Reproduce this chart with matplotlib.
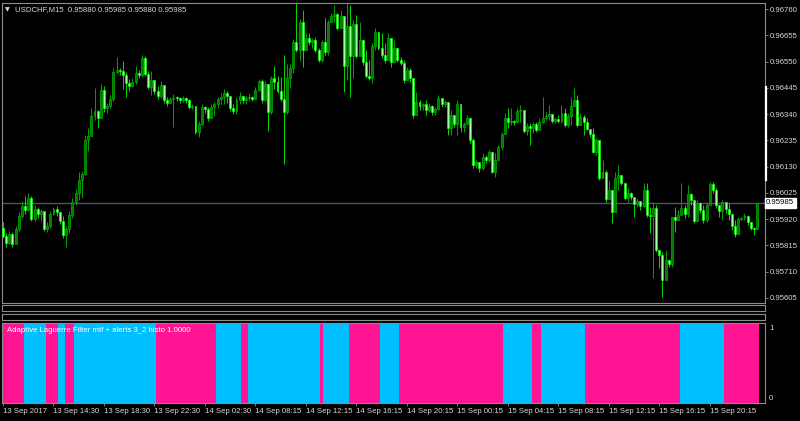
import numpy as np
import matplotlib
matplotlib.use('Agg')
import matplotlib.pyplot as plt
from matplotlib.transforms import blended_transform_factory
from matplotlib.lines import Line2D

# USDCHF M15 - precos em pontos (preco * 100000)
open_first = 95884
close_pts = [
    95852, 95824, 95860, 95820, 95880, 95932, 95972, 95956, 96004, 95920,
    95960, 95940, 95952, 95880, 95892, 95940, 95960, 95948, 95912, 95856,
    95880, 95936, 95988, 96024, 96076, 96100, 96236, 96252, 96332, 96352,
    96324, 96436, 96364, 96372, 96400, 96508, 96516, 96512, 96496, 96464,
    96452, 96468, 96504, 96496, 96564, 96500, 96448,
    96476, 96432, 96412, 96456, 96396, 96384, 96400, 96404, 96404, 96396,
    96404, 96396, 96368, 96372, 96268, 96300, 96368, 96360, 96324, 96368,
    96380, 96400, 96408, 96424, 96412, 96364, 96352, 96396, 96412, 96396,
    96404, 96408, 96400, 96436, 96472, 96396, 96460, 96348, 96484, 96468,
    96432, 96400, 96348, 96484, 96524, 96628, 96596, 96708,
    96596, 96644, 96628, 96636, 96596, 96556, 96628, 96588, 96708, 96732,
    96740, 96684, 96732, 96532, 96692, 96572, 96700, 96572, 96636, 96548,
    96492, 96484, 96612, 96668, 96604, 96576, 96556, 96644, 96548, 96604,
    96556, 96544, 96476, 96516, 96484, 96336, 96388, 96372, 96380, 96356,
    96372, 96348, 96360, 96404, 96380, 96388, 96284, 96336, 96300,
    96380, 96288, 96300, 96324, 96236, 96136, 96148, 96124, 96168, 96156,
    96188, 96108, 96156, 96208, 96260, 96324, 96308, 96312, 96308, 96352,
    96356, 96272, 96292, 96284, 96300, 96276, 96308, 96324, 96332, 96340,
    96312, 96320, 96312, 96344, 96296, 96332, 96372, 96396, 96296, 96328,
    96308, 96280, 96260, 96188, 96236, 96084, 96108, 96000,
    96036, 95948, 96084, 96096, 96064, 96004, 96024, 96008, 95980, 95992,
    95972, 96036, 95936, 95932, 95964, 95796, 95776, 95676, 95756, 95740,
    95928, 95916, 95936, 95964, 95940, 96020, 95996, 95912, 95984, 95956,
    95916, 95976, 96060, 96036, 95976, 95952, 95988, 95960, 95940, 95892,
    95860, 95920, 95924, 95932, 95908, 95884, 95880, 95985,
]
high_pts = [
    95908, 95864, 95872, 95868, 95892, 95948, 95992, 96012, 96024, 96012,
    95976, 95968, 95960, 95948, 95908, 95952, 95968, 95972, 95948, 95932,
    95892, 95952, 96004, 96040, 96108, 96112, 96256, 96284, 96364, 96444,
    96356, 96460, 96452, 96384, 96416, 96524, 96568, 96524, 96552, 96508,
    96480, 96484, 96532, 96516, 96576, 96572, 96512,
    96512, 96460, 96452, 96472, 96420, 96408, 96408, 96420, 96412, 96408,
    96412, 96408, 96400, 96380, 96372, 96312, 96380, 96372, 96368, 96380,
    96388, 96408, 96424, 96440, 96432, 96392, 96380, 96408, 96428, 96408,
    96412, 96424, 96412, 96448, 96480, 96480, 96472, 96428, 96492, 96532,
    96492, 96488, 96576, 96540, 96540, 96640, 96788, 96720,
    96756, 96664, 96664, 96644, 96648, 96604, 96636, 96724, 96716, 96744,
    96776, 96744, 96756, 96716, 96788, 96776, 96716, 96736, 96708, 96636,
    96596, 96556, 96624, 96684, 96668, 96664, 96624, 96664, 96624, 96636,
    96576, 96568, 96556, 96528, 96524, 96484, 96428, 96396, 96384, 96396,
    96384, 96376, 96368, 96416, 96396, 96396, 96376, 96356, 96336,
    96396, 96304, 96308, 96336, 96328, 96244, 96156, 96136, 96184, 96176,
    96196, 96184, 96184, 96216, 96268, 96344, 96364, 96364, 96316, 96364,
    96376, 96324, 96304, 96304, 96308, 96308, 96324, 96408, 96348, 96376,
    96328, 96328, 96336, 96376, 96364, 96344, 96408, 96444, 96416, 96344,
    96336, 96324, 96276, 96284, 96244, 96176, 96156, 96116,
    96076, 96024, 96108, 96136, 96096, 96064, 96044, 96028, 95996, 96004,
    95988, 96064, 96064, 95968, 95988, 95976, 95796, 95788, 95796, 95756,
    95928, 95968, 95956, 96064, 95976, 96056, 96024, 95976, 95996, 95988,
    95976, 95988, 96068, 96068, 96044, 95976, 95996, 95976, 95984, 95928,
    95916, 95928, 95928, 95944, 95936, 95904, 95888, 95985,
]
low_pts = [
    95844, 95808, 95820, 95808, 95860, 95872, 95924, 95940, 95964, 95912,
    95912, 95924, 95912, 95872, 95868, 95884, 95936, 95932, 95900, 95844,
    95808, 95864, 95924, 95976, 95996, 96004, 96096, 96192, 96260, 96316,
    96284, 96324, 96348, 96344, 96364, 96392, 96504, 96496, 96440, 96408,
    96432, 96448, 96460, 96484, 96488, 96492, 96440,
    96416, 96420, 96400, 96404, 96384, 96372, 96384, 96288, 96392, 96384,
    96388, 96384, 96360, 96360, 96260, 96248, 96296, 96344, 96312, 96324,
    96332, 96364, 96380, 96380, 96384, 96352, 96340, 96340, 96380, 96384,
    96380, 96392, 96392, 96400, 96432, 96384, 96392, 96272, 96340, 96440,
    96424, 96392, 96140, 96340, 96444, 96504, 96588, 96552,
    96528, 96596, 96616, 96604, 96588, 96548, 96548, 96576, 96576, 96708,
    96708, 96676, 96684, 96428, 96476, 96408, 96484, 96564, 96628, 96536,
    96484, 96476, 96464, 96596, 96596, 96564, 96544, 96564, 96528, 96564,
    96548, 96536, 96464, 96504, 96468, 96324, 96356, 96356, 96356, 96336,
    96348, 96336, 96336, 96356, 96368, 96368, 96256, 96256, 96288,
    96256, 96268, 96268, 96304, 96224, 96124, 96124, 96108, 96116, 96144,
    96148, 96104, 96088, 96164, 96196, 96268, 96284, 96296, 96296, 96308,
    96308, 96264, 96256, 96216, 96264, 96268, 96288, 96304, 96316, 96316,
    96304, 96304, 96304, 96304, 96288, 96288, 96296, 96376, 96288, 96316,
    96256, 96276, 96248, 96184, 96176, 96076, 96088, 95988,
    96008, 95904, 95964, 96036, 96056, 95996, 95988, 95996, 95928, 95968,
    95956, 95968, 95928, 95864, 95684, 95788, 95724, 95608, 95676, 95728,
    95728, 95868, 95916, 95948, 95924, 95928, 95976, 95904, 95916, 95944,
    95904, 95908, 95984, 96024, 95964, 95928, 95916, 95944, 95916, 95876,
    95848, 95896, 95916, 95916, 95896, 95876, 95856, 95880,
]

# Adaptive Laguerre Filter histo: 1 = subida (azul), -1 = descida (rosa)
trend_state = [-1, 1, -1, 1, -1, 1, -1, 1, -1, 1, -1, 1, -1, 1, -1, 1, -1, 1, -1, 1, -1]
trend_len = [7, 7, 4, 2, 3, 26, 19, 8, 2, 23, 1, 8, 10, 6, 33, 9, 3, 14, 30, 14, 11]

price_ticks = [0.96760, 0.96655, 0.96550, 0.96445, 0.96340, 0.96235,
               0.96130, 0.96025, 0.95920, 0.95815, 0.95710, 0.95605]
time_labels = ['13 Sep 2017', '13 Sep 14:30', '13 Sep 18:30', '13 Sep 22:30',
               '14 Sep 02:30', '14 Sep 08:15', '14 Sep 12:15', '14 Sep 16:15',
               '14 Sep 20:15', '15 Sep 00:15', '15 Sep 04:15', '15 Sep 08:15',
               '15 Sep 12:15', '15 Sep 16:15', '15 Sep 20:15']
time_step = 16
symbol = 'USDCHF,M15'
indicator_name = 'Adaptive Laguerre Filter mtf + alerts 3_2 histo 1.0000'

FONT = 'Liberation Sans'
FS = 5.6
TXT = '#d8d8d8'
GRID = '#8c8c8c'

W, H = 800, 421


def fig_rect(x0, y0, x1, y1):
    # converte pixels (origem no topo) para fracao da figura
    return [x0 / W, 1 - y1 / H, (x1 - x0) / W, (y1 - y0) / H]


def estilo_painel(ax):
    ax.set_facecolor('black')
    for s in ax.spines.values():
        s.set_color(GRID)
        s.set_linewidth(0.8)
    ax.set_xticks([])
    ax.set_yticks([])


close = np.array(close_pts) / 1e5
opn = np.concatenate([[open_first], close_pts[:-1]]) / 1e5
high = np.maximum.reduce([np.array(high_pts) / 1e5, opn, close])
low = np.minimum.reduce([np.array(low_pts) / 1e5, opn, close])
idx = np.arange(len(close))
up = close > opn
xlim = (-0.32, 241.5)

fig = plt.figure(figsize=(W / 100, H / 100), dpi=100)
fig.patch.set_facecolor('black')

# painel principal
ax = fig.add_axes(fig_rect(2, 3, 765, 303))
estilo_painel(ax)
ax.set_xlim(*xlim)
ax.set_ylim(0.95584, 0.96784)

ax.axhline(close[-1], color='#4c5560', lw=1.0, zorder=1)
wick_col = np.where(up, '#00a400', '#00dc00').tolist()
ax.vlines(idx, low, high, colors=wick_col, lw=0.7, zorder=2)
body = np.maximum(np.abs(close - opn), 0.000025)
ax.bar(idx, body, 0.62, bottom=np.minimum(opn, close),
       color=np.where(up, '#007800', '#a2ffa2').tolist(),
       edgecolor=np.where(up, '#00b000', '#00ff00').tolist(),
       linewidth=0.5, zorder=3)

ax.yaxis.tick_right()
ax.set_yticks(price_ticks)
ax.set_yticklabels([f'{p:.5f}' for p in price_ticks], fontsize=FS, family=FONT, color=TXT)
ax.tick_params(axis='y', length=2.2, width=0.6, color=GRID, pad=1.5)

tr = blended_transform_factory(ax.transAxes, ax.transData)
ax.text(1.0016, close[-1], f'{close[-1]:.5f}', transform=tr, ha='left', va='center',
        fontsize=FS, family=FONT, color='black',
        bbox=dict(boxstyle='square,pad=0.18', fc='white', ec='white'))

titulo = f'{symbol}  {opn[-1]:.5f} {high[-1]:.5f} {low[-1]:.5f} {close[-1]:.5f}'
fig.text(5 / W, 1 - 10 / H, '\u25bc', fontsize=4.5, color=TXT, va='center', ha='left')
fig.text(15 / W, 1 - 10 / H, titulo, fontsize=FS, family=FONT, color=TXT, va='center', ha='left')

fig.add_artist(Line2D([765.5 / W, 765.5 / W], [1 - 87 / H, 1 - 180 / H],
                      color='white', lw=1.6))

# paineis vazios
for y0, y1 in [(305, 311), (314, 320)]:
    axe = fig.add_axes(fig_rect(2, y0, 765, y1))
    estilo_painel(axe)

# painel do indicador
ax2 = fig.add_axes(fig_rect(2, 322.5, 765, 403))
estilo_painel(ax2)
ax2.set_xlim(*xlim)
ax2.set_ylim(0, 1)
trend = np.repeat(trend_state, trend_len)
cores = np.where(trend > 0, '#00bfff', '#ff1493').tolist()
ax2.bar(idx, np.ones(len(trend)), width=1.0, color=cores, linewidth=0)

ax2.text(0.006, 0.9, indicator_name, transform=ax2.transAxes, fontsize=FS, family=FONT,
         color='white', ha='left', va='center')
fig.text(769 / W, 1 - 329 / H, '1', fontsize=FS, family=FONT, color=TXT, va='center')
fig.text(769 / W, 1 - 399 / H, '0', fontsize=FS, family=FONT, color=TXT, va='center')

ticks = np.arange(0, len(close), time_step)[:len(time_labels)]
ax2.set_xticks(ticks)
ax2.set_xticklabels(time_labels, fontsize=FS, family=FONT, color=TXT, ha='left')
ax2.tick_params(axis='x', length=2.5, width=0.6, color=GRID, pad=1.2)

fig.savefig('out.png', dpi=100, facecolor='black')
